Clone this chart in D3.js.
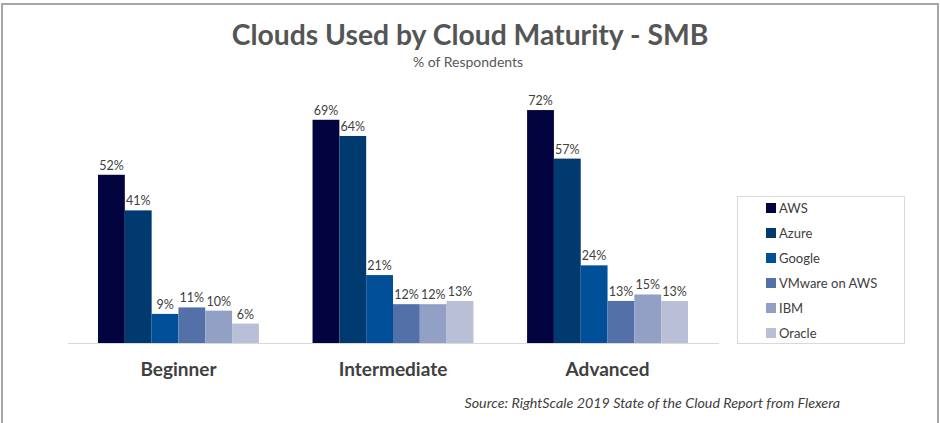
<!DOCTYPE html>
<html>
<head>
<meta charset="utf-8">
<script src="https://cdn.jsdelivr.net/npm/d3@7"></script>
<style>
    html, body { margin: 0; padding: 0; background: #fff; }
    svg { display: block; }
</style>
</head>
<body>
<svg id="chart" width="940" height="423"></svg>
<script>
    'use strict';

    var categories = ['Beginner', 'Intermediate', 'Advanced'];
    var clouds = ['AWS', 'Azure', 'Google', 'VMware on AWS', 'IBM', 'Oracle'];
    var aws = [52, 69, 72];
    var azure = [41, 64, 57];
    var google = [9, 21, 24];
    var vmware = [11, 12, 13];
    var ibm = [10, 12, 15];
    var oracle = [6, 13, 13];
    var colors = ['#03033f', '#003a6e', '#004f98', '#5371a8', '#93a0c6', '#b9bfd7'];

    var FONT = 'Lato, "Open Sans", sans-serif';
    var TEXT_COLOR = '#404040';

    var seriesValues = [aws, azure, google, vmware, ibm, oracle];

    var svg = d3.select('#chart');

    // frame
    svg.append('path')
        .attr('d', 'M2,423V4H938V423')
        .attr('fill', 'none')
        .attr('stroke', '#a6a6a6')
        .attr('stroke-width', 2);

    var x0 = d3.scaleBand()
        .domain(categories)
        .range([98, 688])
        .paddingInner(0.25)
        .paddingOuter(0);

    var x1 = d3.scaleBand()
        .domain(clouds)
        .range([0, x0.bandwidth()]);

    var y = d3.scaleLinear()
        .domain([0, 100])
        .range([343, 19.5]);

    var color = d3.scaleOrdinal()
        .domain(clouds)
        .range(colors);

    // title
    svg.append('text')
        .attr('x', 470)
        .attr('y', 45)
        .attr('text-anchor', 'middle')
        .attr('font-family', FONT)
        .attr('font-weight', 'bold')
        .attr('font-size', 28.3)
        .attr('fill', '#555555')
        .text('Clouds Used by Cloud Maturity - SMB');

    svg.append('text')
        .attr('x', 468)
        .attr('y', 67)
        .attr('text-anchor', 'middle')
        .attr('font-family', FONT)
        .attr('font-size', 14)
        .attr('fill', '#595959')
        .text('% of Respondents');

    // baseline
    svg.append('line')
        .attr('x1', 68)
        .attr('x2', 719)
        .attr('y1', y(0) + 0.5)
        .attr('y2', y(0) + 0.5)
        .attr('stroke', '#d9d9d9')
        .attr('stroke-width', 1);

    var data = categories.map(function (cat, i) {
        return {
            category: cat,
            values: clouds.map(function (name, j) {
                return {name: name, value: seriesValues[j][i]};
            })
        };
    });

    var groups = svg.append('g')
        .selectAll('g')
        .data(data)
        .enter()
        .append('g')
        .attr('transform', function (d) {
            return 'translate(' + x0(d.category) + ',0)';
        });

    groups.selectAll('rect')
        .data(function (d) { return d.values; })
        .enter()
        .append('rect')
        .attr('x', function (d) { return x1(d.name); })
        .attr('y', function (d) { return y(d.value); })
        .attr('width', x1.bandwidth())
        .attr('height', function (d) { return y(0) - y(d.value); })
        .attr('fill', function (d) { return color(d.name); });

    groups.selectAll('text')
        .data(function (d) { return d.values; })
        .enter()
        .append('text')
        .attr('x', function (d) { return x1(d.name) + x1.bandwidth() / 2; })
        .attr('y', function (d) { return y(d.value) - 5; })
        .attr('text-anchor', 'middle')
        .attr('font-family', FONT)
        .attr('font-size', 12.5)
        .attr('fill', TEXT_COLOR)
        .text(function (d) { return d.value + '%'; });

    // category axis labels
    var xAxis = svg.append('g')
        .attr('transform', 'translate(0,' + y(0) + ')')
        .call(d3.axisBottom(x0).tickSize(0).tickPadding(0));
    xAxis.select('.domain').remove();
    xAxis.selectAll('text')
        .attr('dy', 0)
        .attr('y', 33)
        .attr('font-family', FONT)
        .attr('font-weight', 'bold')
        .attr('font-size', 19)
        .attr('fill', TEXT_COLOR);

    // legend
    var legend = svg.append('g');
    legend.append('rect')
        .attr('x', 737.5)
        .attr('y', 196.5)
        .attr('width', 167)
        .attr('height', 147)
        .attr('fill', '#fff')
        .attr('stroke', '#d9d9d9');

    var items = legend.selectAll('g.item')
        .data(clouds)
        .enter()
        .append('g')
        .attr('class', 'item')
        .attr('transform', function (d, i) {
            return 'translate(766,' + (208 + i * 25) + ')';
        });
    items.append('rect')
        .attr('x', 0)
        .attr('y', -5)
        .attr('width', 10)
        .attr('height', 10)
        .attr('fill', function (d) { return color(d); });
    items.append('text')
        .attr('x', 13)
        .attr('y', 5)
        .attr('font-family', FONT)
        .attr('font-size', 13)
        .attr('fill', TEXT_COLOR)
        .text(function (d) { return d; });

    // source
    svg.append('text')
        .attr('x', 840)
        .attr('y', 408)
        .attr('text-anchor', 'end')
        .attr('font-family', FONT)
        .attr('font-style', 'italic')
        .attr('font-size', 14.3)
        .attr('fill', TEXT_COLOR)
        .text('Source: RightScale 2019 State of the Cloud Report from Flexera');
</script>
</body>
</html>
